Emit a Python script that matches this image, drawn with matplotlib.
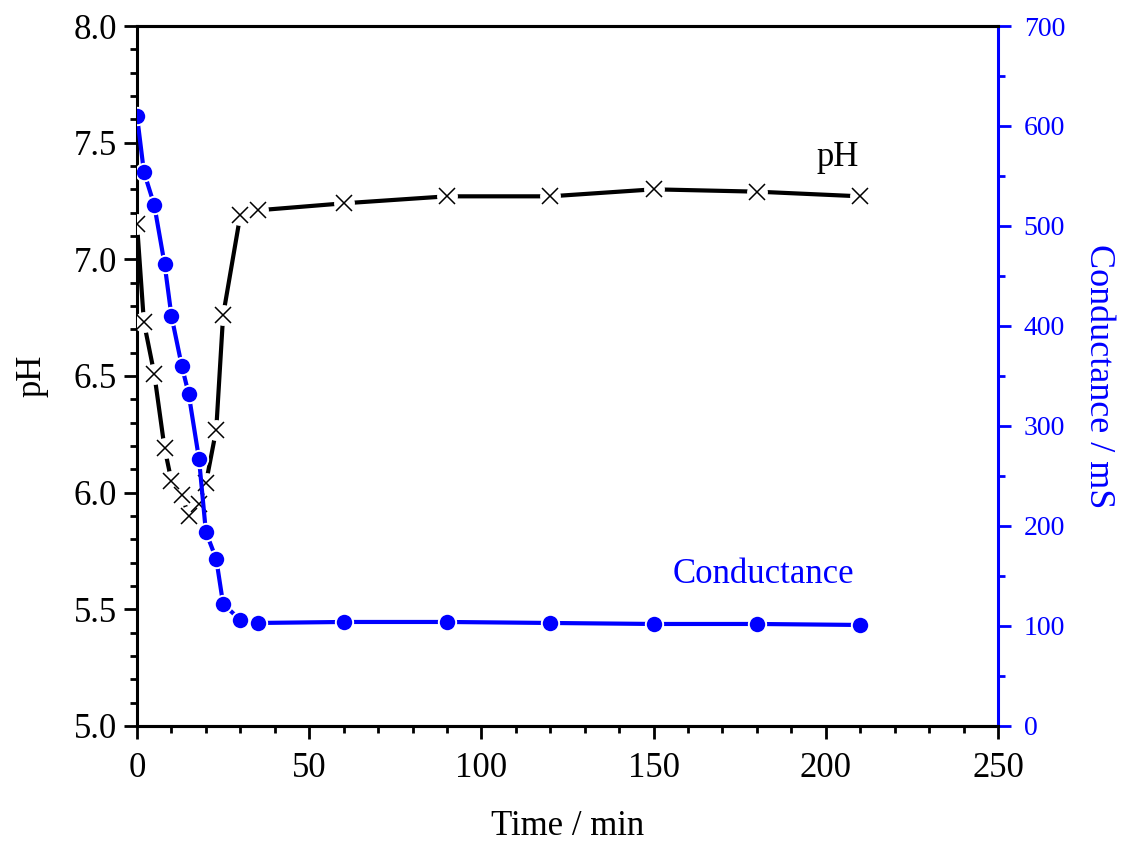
import matplotlib.pyplot as plt
from matplotlib.ticker import MultipleLocator

plt.rcParams['font.family'] = ['Liberation Serif', 'DejaVu Serif']

# time / min
time = [0, 2, 5, 8, 10, 13, 15, 18, 20, 23, 25, 30, 35, 60, 90, 120, 150, 180, 210]
ph = [7.15, 6.73, 6.51, 6.19, 6.05, 5.99, 5.90, 5.95, 6.04, 6.27, 6.76, 7.19, 7.21,
      7.24, 7.27, 7.27, 7.30, 7.29, 7.27]
conductance = [610, 554, 521, 462, 410, 360, 332, 267, 194, 167, 122, 106, 103,
               104, 104, 103, 102, 102, 101]

fig = plt.figure(figsize=(11.25, 8.47), dpi=100)
ax = fig.add_axes([0.1218, 0.1429, 0.7653, 0.8264])
ax2 = ax.twinx()

# pH: line, white halo under markers, then crosses
ax.plot(time, ph, color='black', lw=3, zorder=2)
ax.plot(time, ph, ls='none', marker='o', ms=15, mfc='white', mec='none', zorder=3)
ax.plot(time, ph, ls='none', marker='x', ms=11, mec='black', mew=1.1, zorder=4)

# conductance
ax2.plot(time, conductance, color='blue', lw=3, marker='o', ms=12.5,
         mfc='blue', mec='white', mew=1.4)

ax.set_xlim(0, 250)
ax.set_ylim(5.0, 8.0)
ax2.set_ylim(0, 700)

ax.xaxis.set_major_locator(MultipleLocator(50))
ax.xaxis.set_minor_locator(MultipleLocator(10))
ax.yaxis.set_major_locator(MultipleLocator(0.5))
ax.yaxis.set_minor_locator(MultipleLocator(0.1))
ax2.yaxis.set_major_locator(MultipleLocator(100))
ax2.yaxis.set_minor_locator(MultipleLocator(50))
ax.yaxis.set_major_formatter(plt.FormatStrFormatter('%.1f'))

ax.tick_params(axis='both', which='major', direction='out', length=9.5, width=2,
               labelsize=25, top=False, right=False)
ax.tick_params(axis='x', which='major', pad=9)
ax.tick_params(axis='y', which='major', pad=5)
ax.tick_params(axis='both', which='minor', direction='out', length=5, width=2,
               top=False, right=False)
ax2.tick_params(axis='y', which='major', direction='out', length=9.5, width=2,
                labelsize=20, colors='blue', pad=9)
ax2.tick_params(axis='y', which='minor', direction='out', length=5, width=2,
                colors='blue')

for sp in ['left', 'bottom', 'top']:
    ax.spines[sp].set_linewidth(2.2)
    ax2.spines[sp].set_linewidth(2.2)
ax2.spines['right'].set_color('blue')
ax2.spines['right'].set_linewidth(2.2)
ax.spines['right'].set_visible(False)
ax2.spines['left'].set_visible(False)

ax.set_xlabel('Time / min', fontsize=25, labelpad=18)
ax.set_ylabel('pH', fontsize=25, labelpad=18)
ax2.set_ylabel('Conductance / mS', fontsize=26, color='blue', rotation=270, labelpad=36)

ax.text(0.814, 0.812, 'pH', transform=ax.transAxes, fontsize=25, ha='center', va='center')
ax.text(0.727, 0.216, 'Conductance', transform=ax.transAxes, fontsize=25,
        color='blue', ha='center', va='center')

fig.savefig('out.png', dpi=100)
